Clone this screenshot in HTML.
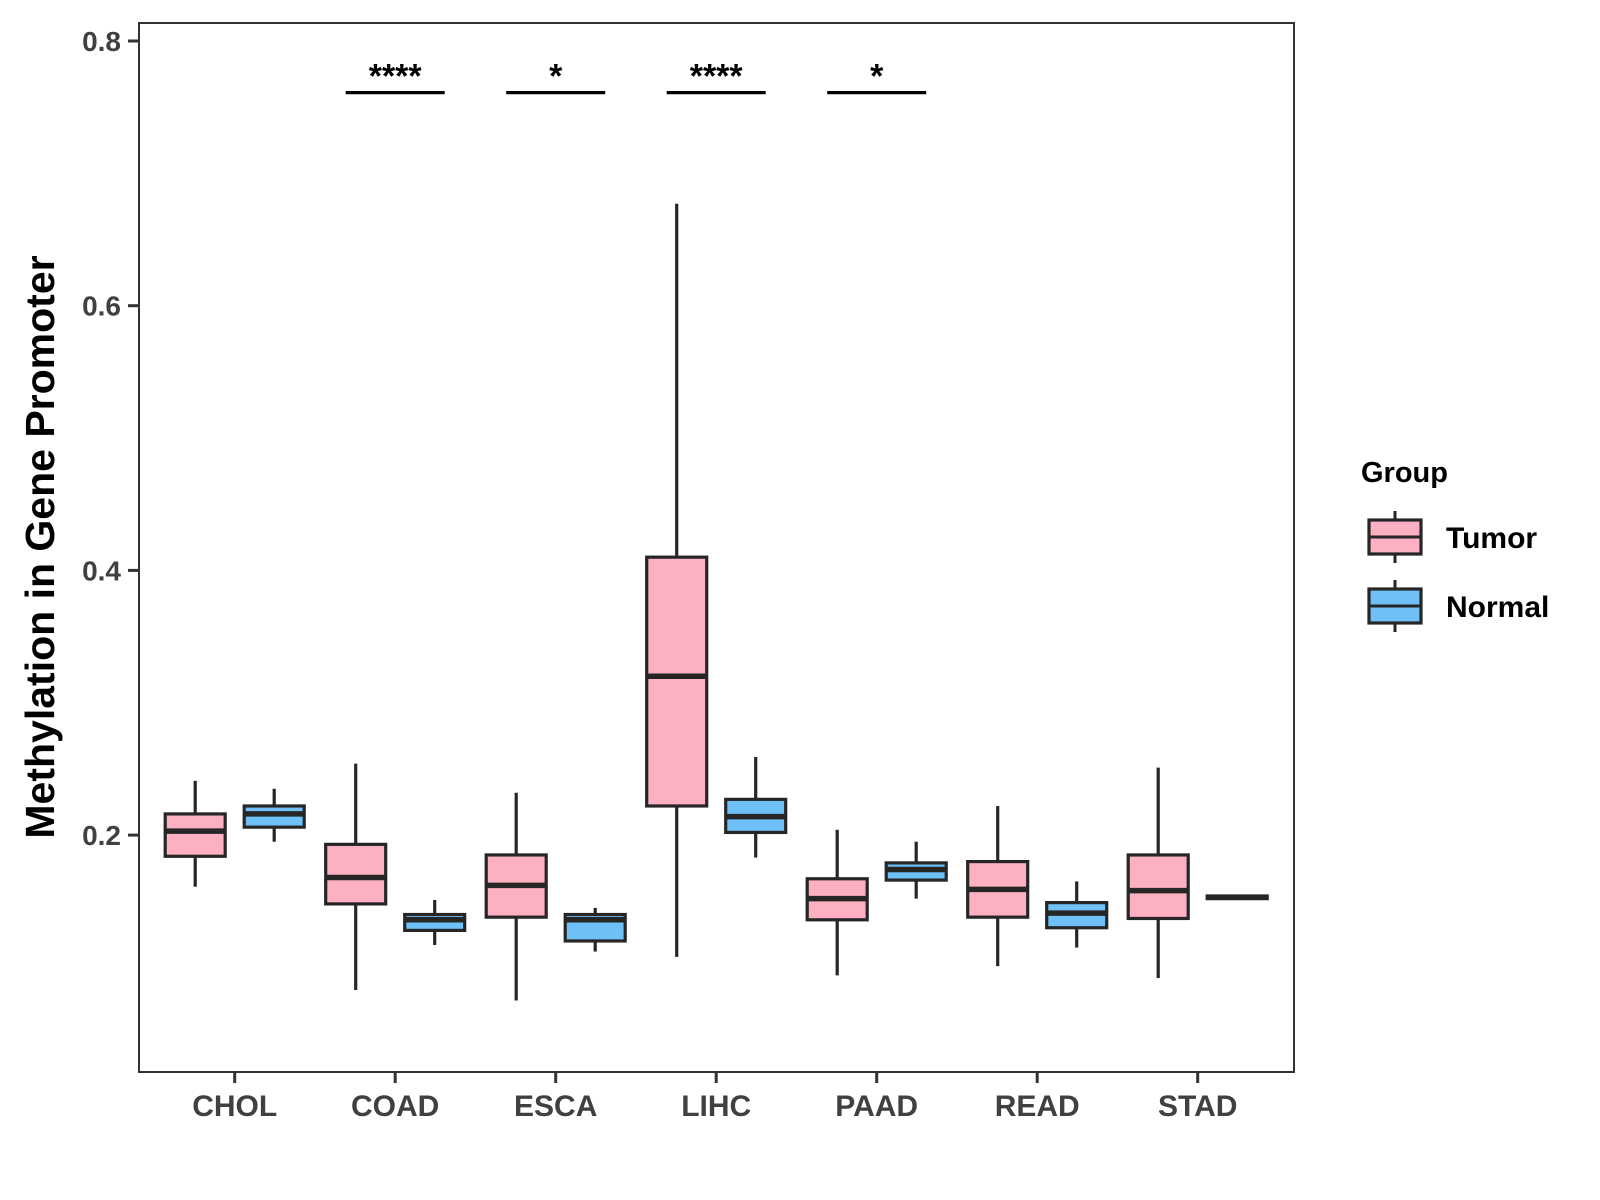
<!DOCTYPE html>
<html><head><meta charset="utf-8"><style>
html,body{margin:0;padding:0;background:#fff}
svg{display:block;font-family:"Liberation Sans",Arial,sans-serif}
</style></head><body>
<svg id="chart" width="1600" height="1200" viewBox="0 0 1600 1200">
<g id="plot"></g>
</svg>
<script>
const categories=["CHOL","COAD","ESCA","LIHC","PAAD","READ","STAD"];
const tumorLow=[0.161,0.083,0.075,0.108,0.094,0.101,0.092];
const tumorQ1=[0.184,0.148,0.138,0.222,0.136,0.138,0.137];
const tumorMed=[0.203,0.168,0.162,0.320,0.152,0.159,0.158];
const tumorQ3=[0.216,0.193,0.185,0.410,0.167,0.180,0.185];
const tumorHigh=[0.241,0.254,0.232,0.677,0.204,0.222,0.251];
const normalLow=[0.195,0.117,0.112,0.183,0.152,0.115,0.153];
const normalQ1=[0.206,0.128,0.120,0.202,0.166,0.130,0.152];
const normalMed=[0.216,0.136,0.136,0.214,0.174,0.141,0.153];
const normalQ3=[0.222,0.140,0.140,0.227,0.179,0.149,0.154];
const normalHigh=[0.235,0.151,0.145,0.259,0.195,0.165,0.153];
const yTicks=[0.2,0.4,0.6,0.8];
const sigCats=["COAD","ESCA","LIHC","PAAD"];
const sigLabels=["****","*","****","*"];
const sigLevel=0.761;

const NS="http://www.w3.org/2000/svg";
const svg=document.getElementById('chart');
const plot=document.getElementById('plot');
const L=139,T=23,R=1294,B=1072;
function y(v){return 41+(0.8-v)*1323.5;}
function x(i){return 234.7+i*160.5;}
function el(tag,attrs,parent){const e=document.createElementNS(NS,tag);for(const k in attrs)e.setAttribute(k,attrs[k]);(parent||plot).appendChild(e);return e;}

function box(cx,lo,q1,md,q3,hi,fill,name){
  const g=el('g',{});
  
  
  const hw=30;
  el('line',{x1:cx,x2:cx,y1:y(hi),y2:y(q3),stroke:'#262626','stroke-width':3.2},g);
  el('line',{x1:cx,x2:cx,y1:y(q1),y2:y(lo),stroke:'#262626','stroke-width':3.2},g);
  el('rect',{x:cx-hw,y:y(q3),width:hw*2,height:Math.max(y(q1)-y(q3),0.1),fill:fill,stroke:'#262626','stroke-width':3.2},g);
  el('line',{x1:cx-hw,x2:cx+hw,y1:y(md),y2:y(md),stroke:'#262626','stroke-width':5.5},g);
}
categories.forEach((c,i)=>{
  box(x(i)-39.5,tumorLow[i],tumorQ1[i],tumorMed[i],tumorQ3[i],tumorHigh[i],'#FCB0C2','box-tumor-'+c.toLowerCase());
  box(x(i)+39.5,normalLow[i],normalQ1[i],normalMed[i],normalQ3[i],normalHigh[i],'#6EC0F7','box-normal-'+c.toLowerCase());
  const tk=el('line',{x1:x(i),x2:x(i),y1:B,y2:B+11,stroke:'#333','stroke-width':3});
  
  
  const t=el('text',{x:x(i),y:1116,'text-anchor':'middle','font-size':30,'font-weight':'bold',fill:'#404040'});
  t.textContent=c;
  
  
});
yTicks.forEach(v=>{
  const tk=el('line',{x1:L-11,x2:L,y1:y(v),y2:y(v),stroke:'#333','stroke-width':3});
  
  
  const t=el('text',{x:L-18,y:y(v)+10,'text-anchor':'end','font-size':28,'font-weight':'bold',fill:'#404040'});
  t.textContent=v.toFixed(1);
  
  
});
sigCats.forEach((c,k)=>{
  const i=categories.indexOf(c);
  const ln=el('line',{x1:x(i)-49.5,x2:x(i)+49.5,y1:y(sigLevel),y2:y(sigLevel),stroke:'#000','stroke-width':3.2});
  
  
  const t=el('text',{x:x(i),y:y(sigLevel)-5,'text-anchor':'middle','font-size':34,'font-weight':'bold',fill:'#000'});
  t.textContent=sigLabels[k];
  
  
});
const frame=el('rect',{x:L,y:T,width:R-L,height:B-T,fill:'none',stroke:'#333','stroke-width':2});


const yt=el('text',{x:0,y:0,transform:'translate(54,547) rotate(-90)','text-anchor':'middle','font-size':41,'font-weight':'bold',fill:'#000'});
yt.textContent='Methylation in Gene Promoter';


// legend
const lg=el('g',{});


const lt=el('text',{x:1361,y:482,'font-size':29,'font-weight':'bold',fill:'#000'},lg);
lt.textContent='Group';


[["Tumor",'#FCB0C2',537],["Normal",'#6EC0F7',606]].forEach(([n,f,cy])=>{
  const g=el('g',{},lg);
  
  
  el('line',{x1:1395,x2:1395,y1:cy-26,y2:cy+26,stroke:'#262626','stroke-width':3},g);
  el('rect',{x:1369,y:cy-17,width:52,height:34,fill:f,stroke:'#262626','stroke-width':3.2},g);
  el('line',{x1:1369,x2:1421,y1:cy,y2:cy,stroke:'#262626','stroke-width':3},g);
  const t=el('text',{x:1446,y:cy+11,'font-size':30,'font-weight':'bold',fill:'#000'},g);
  t.textContent=n;
});
</script>
</body></html>
